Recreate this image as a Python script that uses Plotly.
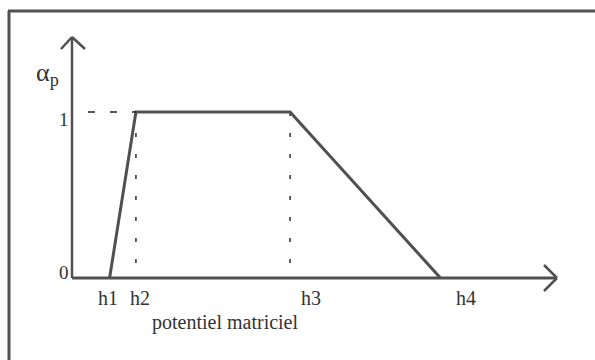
import plotly.graph_objects as go

# --- data ---
h_labels = ["h1", "h2", "h3", "h4"]
h_values = [1.0, 1.7, 5.8, 9.8]          # potentiel matriciel positions
alpha_values = [0, 1, 1, 0]             # alpha_p at h1..h4
y_ticks = [0, 1]
y_tick_labels = ["0", "1"]
x_title = "potentiel matriciel"
y_title = "α<sub>p</sub>"

W, H = 595, 360
# pixel geometry of the drawing
X0PX, Y0PX = 72, 278        # origin in pixels
XUNIT, YUNIT = 37.6, 166.0  # pixels per unit
xr = [-X0PX / XUNIT, (W - X0PX) / XUNIT]
yr = [-(H - Y0PX) / YUNIT, Y0PX / YUNIT]

def px_x(px):
    return (px - X0PX) / XUNIT

def px_y(py):
    return (Y0PX - py) / YUNIT

LC = "#505050"
TC = "#333333"
FONT = "Liberation Serif, Times New Roman, serif"

fig = go.Figure()

# main curve
fig.add_trace(go.Scatter(x=h_values, y=alpha_values, mode="lines",
                         line=dict(color=LC, width=3), hoverinfo="skip"))

# dotted guides at h2 and h3
for hv in (h_values[1], h_values[2]):
    fig.add_trace(go.Scatter(x=[hv, hv], y=[1, 0], mode="lines",
                             line=dict(color=LC, width=1.8, dash="4px,17px"),
                             hoverinfo="skip"))
# dashed guide from y-axis at alpha=1
fig.add_trace(go.Scatter(x=[px_x(88), h_values[1]], y=[1, 1], mode="lines",
                         line=dict(color="#222", width=1.5, dash="7px,15px"),
                         hoverinfo="skip"))

shapes = []
def seg(x0, y0, x1, y1, w=2.5, color=LC):
    shapes.append(dict(type="line", xref="x", yref="y", x0=x0, y0=y0, x1=x1, y1=y1,
                       line=dict(color=color, width=w)))

# axes
seg(0, 0, px_x(557), 0, 3)
seg(0, 0, 0, px_y(38), 2.5)
# arrowheads
seg(px_x(544), px_y(265), px_x(557), 0, 2.5)
seg(px_x(544), px_y(291), px_x(557), 0, 2.5)
seg(px_x(61), px_y(49), 0, px_y(37), 2.5)
seg(px_x(85), px_y(49), 0, px_y(37), 2.5)

# frame (top and left border)
shapes.append(dict(type="line", xref="paper", yref="paper",
                   x0=8 / W, y0=1 - 11 / H, x1=1, y1=1 - 11 / H,
                   line=dict(color=LC, width=3)))
shapes.append(dict(type="line", xref="paper", yref="paper",
                   x0=9 / W, y0=1 - 11 / H, x1=9 / W, y1=0,
                   line=dict(color=LC, width=3)))

annotations = []
# h labels
h_shift = [-2, 4, 21, 26]
for lab, hv, dx in zip(h_labels, h_values, h_shift):
    annotations.append(dict(x=hv, y=0, xref="x", yref="y", text=lab, showarrow=False,
                            xanchor="center", yanchor="top", xshift=dx, yshift=-7,
                            font=dict(family=FONT, size=20, color=TC)))
# y tick labels
for tv, tl in zip(y_ticks, y_tick_labels):
    annotations.append(dict(x=0, y=tv, xref="x", yref="y", text=tl, showarrow=False,
                            xanchor="right", yanchor="middle", xshift=-1,
                            yshift=(6 if tv == 0 else -7),
                            font=dict(family=FONT, size=19, color=TC)))
# axis titles
annotations.append(dict(x=px_x(225), y=px_y(322), xref="x", yref="y", text=x_title,
                        showarrow=False, xanchor="center", yanchor="middle",
                        font=dict(family=FONT, size=20, color=TC)))
annotations.append(dict(x=px_x(47), y=px_y(74), xref="x", yref="y", text=y_title,
                        showarrow=False, xanchor="center", yanchor="middle",
                        font=dict(family=FONT, size=26, color=TC)))

fig.update_layout(
    width=W, height=H,
    margin=dict(l=0, r=0, t=0, b=0),
    paper_bgcolor="white", plot_bgcolor="white",
    showlegend=False,
    font=dict(family=FONT, color=TC),
    xaxis=dict(range=xr, visible=False, fixedrange=True),
    yaxis=dict(range=yr, visible=False, fixedrange=True),
    shapes=shapes, annotations=annotations,
)

fig.write_html("out.html")
